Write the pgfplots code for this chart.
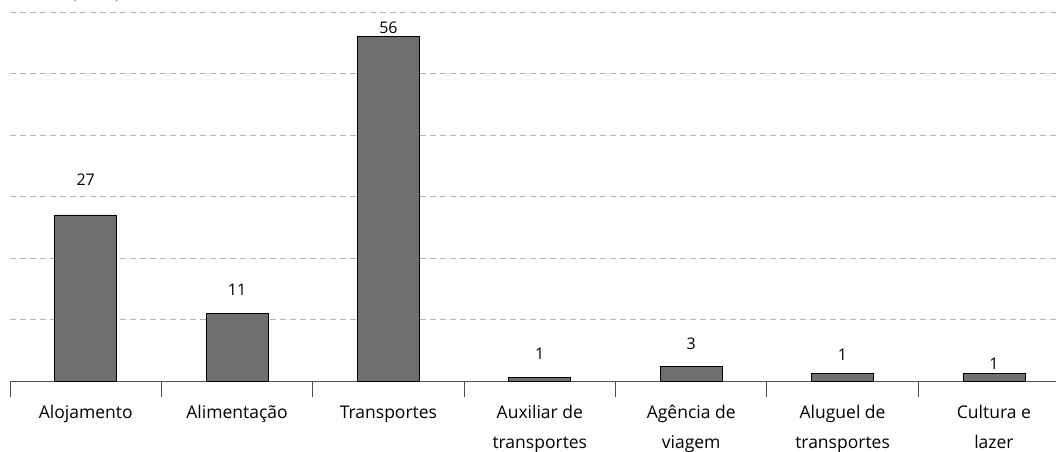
\documentclass[border=0pt]{standalone}
\usepackage{pgfplots}
\pgfplotsset{compat=1.18}
\usepackage{pgfplotstable}
\usepackage{fontspec}
\setmainfont{Open Sans}
\usetikzlibrary{calc}
\definecolor{barfill}{HTML}{6E6F71}
\definecolor{gridc}{HTML}{B4B4B4}
\definecolor{axc}{HTML}{505050}

\pgfplotstableread{
x h ly lab
0 27 32.7 27
1 11 14.8 11
2 56 57.5 56
3 0.6 4.5 1
4 2.4 6.0 3
5 1.25 4.3 1
6 1.25 2.8 1
}\data

\begin{document}
\begin{tikzpicture}
\begin{axis}[name=ax, at={(0,0)}, anchor=south west,
  scale only axis, width=1046pt, height=369pt,
  xmin=-0.5, xmax=6.41, ymin=0, ymax=60,
  axis x line*=bottom, axis y line*=left,
  x axis line style={axc, line width=0.9pt},
  y axis line style={draw=none},
  ytick={10,20,...,60}, yticklabels={}, ytick style={draw=none},
  ymajorgrids, grid style={gridc, line width=0.8pt, dash pattern=on 6pt off 4pt},
  xtick={0,...,6},
  xticklabels={Alojamento, Alimentação, Transportes, {Auxiliar de\\transportes}, {Agência de\\viagem}, {Aluguel de\\transportes}, {Cultura e\\lazer}},
  xticklabel style={align=center, font=\fontsize{17.5}{29.5}\selectfont, yshift=-21pt},
  major x tick style={draw=none},
  minor xtick={-0.5,0.5,...,5.5},
  tick align=outside,
  minor tick length=16pt,
  major tick length=0pt,
  minor x tick style={axc, line width=0.8pt},
  clip=false,
]
\addplot[ybar, bar width=62pt, fill=barfill, draw=black, line width=0.8pt] table[x=x, y=h] {\data};
\addplot[draw=none, mark=none, nodes near coords, point meta=explicit symbolic,
  nodes near coords style={anchor=center, font=\fontsize{16}{18}\selectfont, black}]
  table[x=x, y=ly, meta=lab] {\data};
\end{axis}
\node[anchor=south west, inner sep=0pt, font=\fontsize{15}{18}\selectfont, gray] at ($(ax.north west)+(62pt,10pt)$) {(em \%)};
\pgfresetboundingbox
\path[use as bounding box] ($(ax.south west)+(-10pt,-71pt)$) rectangle ($(ax.north east)+(0pt,12pt)$);
\end{tikzpicture}
\end{document}
